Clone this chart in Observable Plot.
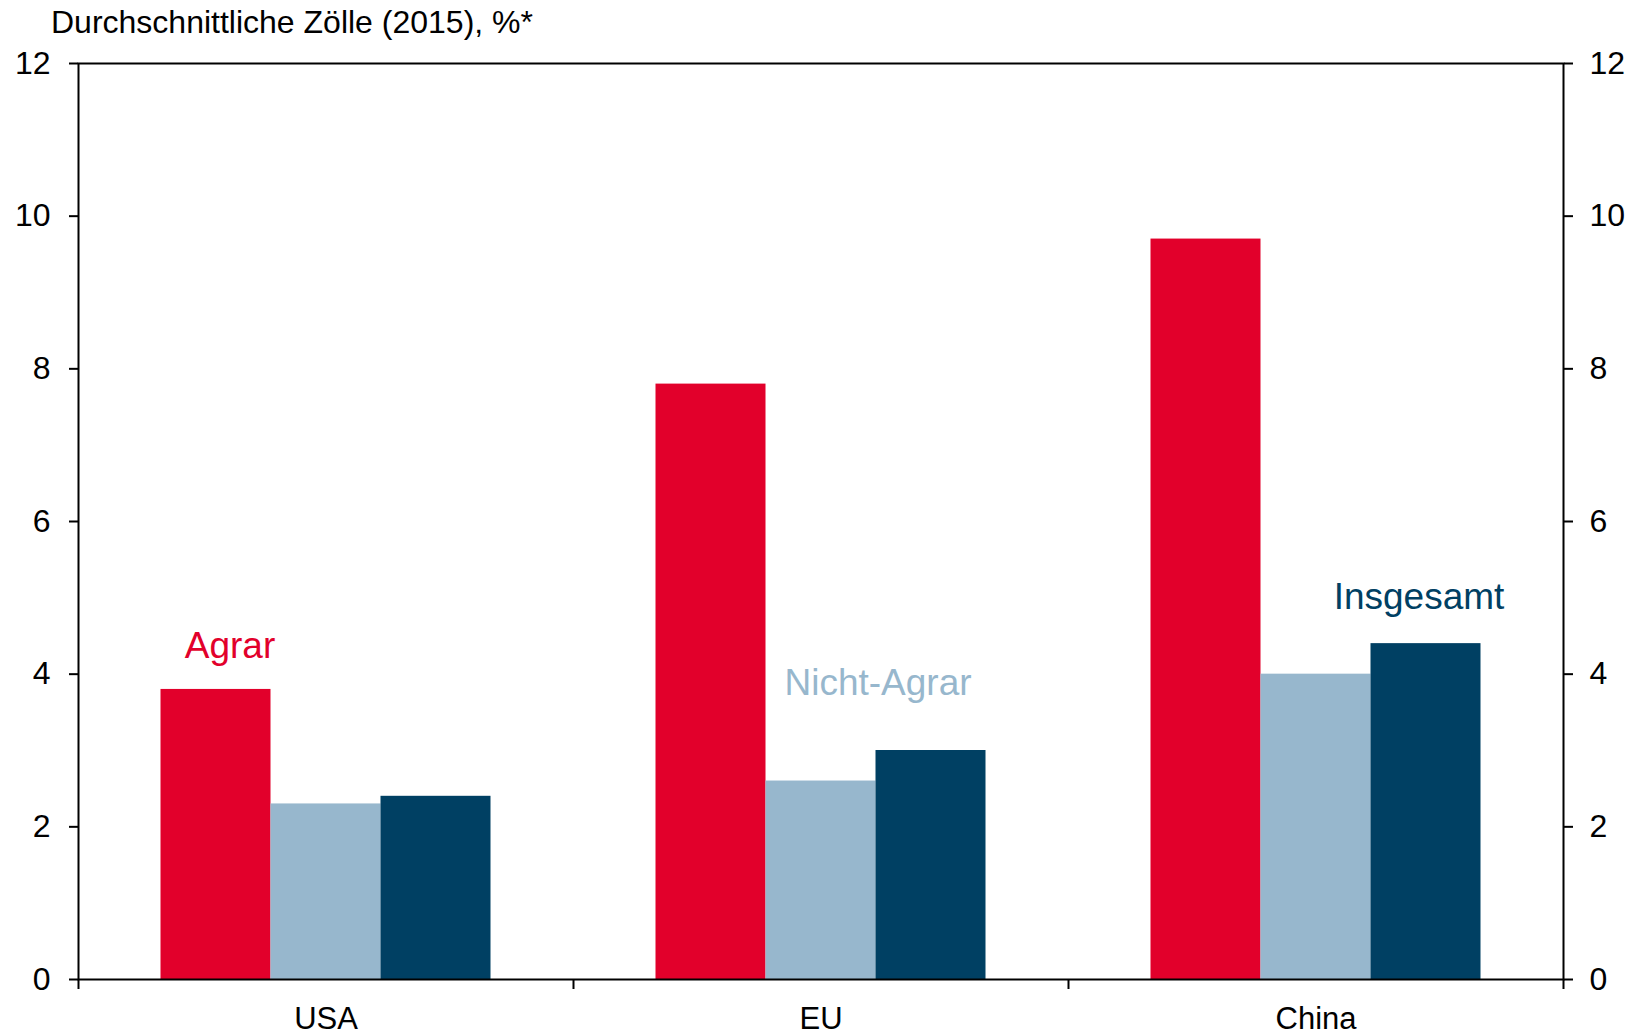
<!DOCTYPE html>
<html>
<head>
<meta charset="utf-8">
<script src="https://cdn.jsdelivr.net/npm/d3@7"></script>
<script src="https://cdn.jsdelivr.net/npm/@observablehq/plot@0.6"></script>
<style>
  html, body { margin: 0; padding: 0; background: #fff; }
  #title { position: absolute; left: 51px; top: 0; height: 40px; line-height: 44px;
           font-family: "Liberation Sans", Arial, sans-serif; font-size: 32px; color: #000; white-space: nowrap; }
  #chart { position: absolute; left: 0; top: 40px; }
  svg { font-family: "Liberation Sans", Arial, sans-serif; }
</style>
</head>
<body>
<div id="title"></div>
<div id="chart"></div>
<script>
const title = "Durchschnittliche Zölle (2015), %*";
const categories = ["USA", "EU", "China"];
const series = ["Agrar", "Nicht-Agrar", "Insgesamt"];
const agrar = [3.8, 7.8, 9.7];
const nichtAgrar = [2.3, 2.6, 4.0];
const insgesamt = [2.4, 3.0, 4.4];
const yTicks = [0, 2, 4, 6, 8, 10, 12];
const colors = ["#E2002B", "#97B7CD", "#004063"];
const labelCategories = ["USA", "EU", "China"]; // which group each series label sits over

document.getElementById("title").textContent = title;

const values = [agrar, nichtAgrar, insgesamt];
const rows = [];
categories.forEach((c, ci) => series.forEach((s, si) => rows.push({category: c, series: s, value: values[si][ci], ci, si})));

// grouped layout within each category band (band = 1 unit on x)
const groupPad = 1 / 6, barW = 2 / 9;
const x1 = d => d.ci + groupPad + d.si * barW;
const x2 = d => d.ci + groupPad + (d.si + 1) * barW;
const xc = d => d.ci + groupPad + (d.si + 0.5) * barW;

const labelRow = (s) => rows.filter(d => d.series === s && d.category === labelCategories[series.indexOf(s)]);

const plot = Plot.plot({
  width: 1637,
  height: 995,
  marginTop: 23,
  marginBottom: 56,
  marginLeft: 78,
  marginRight: 74,
  x: {type: "linear", domain: [0, categories.length]},
  y: {domain: [0, 12]},
  color: {domain: series, range: colors},
  marks: [
    Plot.rect(rows, {x1, x2, y1: 0, y2: "value", fill: "series"}),
    Plot.frame({stroke: "#000", strokeWidth: 2}),
    Plot.axisY({anchor: "left", ticks: yTicks, tickSize: 9, tickPadding: 19, fontSize: 32, label: null, stroke: "#000", strokeWidth: 2, fill: "#000"}),
    Plot.axisY({anchor: "right", ticks: yTicks, tickSize: 9, tickPadding: 17, fontSize: 32, label: null, stroke: "#000", strokeWidth: 2, fill: "#000"}),
    Plot.axisX({ticks: d3.range(categories.length + 1), tickSize: 10, tickFormat: () => "", label: null, stroke: "#000", strokeWidth: 2}),
    Plot.axisX({ticks: categories.map((c, i) => i + 0.5), tickSize: 0, tickPadding: 27, tickFormat: v => categories[Math.floor(v)], fontSize: 31, label: null, fill: "#000"}),
    Plot.text(labelRow("Agrar"), {x: xc, y: "value", text: "series", fill: "series", fontSize: 37, dx: 14, dy: -43}),
    Plot.text(labelRow("Nicht-Agrar"), {x: xc, y: "value", text: "series", fill: "series", fontSize: 37, dx: 57, dy: -98}),
    Plot.text(labelRow("Insgesamt"), {x: xc, y: "value", text: "series", fill: "series", fontSize: 37, dx: -7, dy: -46})
  ]
});
document.getElementById("chart").appendChild(plot);
</script>
</body>
</html>
